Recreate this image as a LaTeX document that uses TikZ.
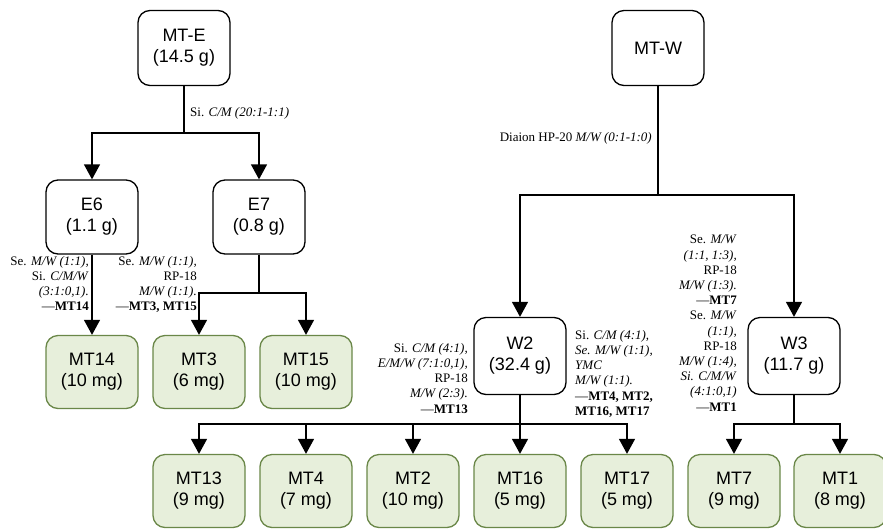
\documentclass[tikz,border=0pt]{standalone}
\usepackage{fontspec}
\setmainfont{Liberation Serif}
\newfontfamily\boxfont{Liberation Sans}
\usetikzlibrary{arrows.meta}
\definecolor{gfill}{RGB}{231,239,219}
\definecolor{gdraw}{RGB}{106,135,72}
\tikzset{
  box/.style={draw=black, line width=1.3pt, rounded corners=12pt, fill=white,
    minimum width=92pt, minimum height=75pt, inner sep=0pt, align=center,
    font={\boxfont\fontsize{18}{21}\selectfont}},
  gbox/.style={box, draw=gdraw, fill=gfill, minimum height=73pt},
  conn/.style={line width=1.3pt, draw=black},
  arr/.style={conn, -{Triangle[width=16pt,length=15pt]}},
  lab/.style={inner sep=0pt, font={\fontsize{13}{15.2}\selectfont}},
}
\begin{document}
\begin{tikzpicture}[x=1pt,y=-1pt]
\useasboundingbox (0,0) rectangle (883,528);
% top nodes
\node[box] (mte) at (184,48) {MT-E\\(14.5 g)};
\node[box] (mtw) at (658,48) {MT-W};
% second level
\node[box, minimum height=74pt] (e6) at (92,217) {E6\\(1.1 g)};
\node[box, minimum height=74pt] (e7) at (259,217) {E7\\(0.8 g)};
\node[box, minimum height=77pt] (w2) at (520,356) {W2\\(32.4 g)};
\node[box, minimum height=77pt] (w3) at (794,356) {W3\\(11.7 g)};
% green row 1
\node[gbox] (mt14) at (92,372) {MT14\\(10 mg)};
\node[gbox] (mt3) at (199,372) {MT3\\(6 mg)};
\node[gbox] (mt15) at (306,372) {MT15\\(10 mg)};
% green row 2
\node[gbox] (mt13) at (199,491) {MT13\\(9 mg)};
\node[gbox] (mt4) at (306,491) {MT4\\(7 mg)};
\node[gbox] (mt2) at (413,491) {MT2\\(10 mg)};
\node[gbox] (mt16) at (520,491) {MT16\\(5 mg)};
\node[gbox] (mt17) at (627,491) {MT17\\(5 mg)};
\node[gbox] (mt7) at (734,491) {MT7\\(9 mg)};
\node[gbox] (mt1) at (840,491) {MT1\\(8 mg)};
% junctions
\coordinate (jE) at (184,133);
\coordinate (jW) at (658,195);
\coordinate (jE7) at (259,293);
\coordinate (jW2) at (520,424);
\coordinate (jW3) at (794,424);
% connectors
\draw[conn] (mte.south) -- (jE);
\draw[arr] (jE) -| (e6.north);
\draw[arr] (jE) -| (e7.north);
\draw[arr] (e6.south) -- (mt14.north);
\draw[conn] (e7.south) -- (jE7);
\draw[arr] (jE7) -| (mt3.north);
\draw[arr] (jE7) -| (mt15.north);
\draw[conn] (mtw.south) -- (jW);
\draw[arr] (jW) -| (w2.north);
\draw[arr] (jW) -| (w3.north);
\draw[conn] (w2.south) -- (jW2);
\draw[arr] (jW2) -| (mt13.north);
\draw[arr] (jW2) -| (mt4.north);
\draw[arr] (jW2) -| (mt2.north);
\draw[arr] (jW2) -- (mt16.north);
\draw[arr] (jW2) -| (mt17.north);
\draw[conn] (w3.south) -- (jW3);
\draw[arr] (jW3) -| (mt7.north);
\draw[arr] (jW3) -| (mt1.north);
% labels
\node[lab, anchor=west] (l1) at (190,113) {Si. \textit{C/M (20:1-1:1)}};
\node[lab, anchor=east] (l2) at (652,138) {Diaion HP-20 \textit{M/W (0:1-1:0)}};
\node[lab, anchor=north east, align=right] (l3) at (89,256)
  {Se. \textit{M/W (1:1),}\\Si. \textit{C/M/W}\\\textit{(3:1:0,1).}\\—\textbf{MT14}};
\node[lab, anchor=north east, align=right] (l4) at (197,256)
  {Se. \textit{M/W (1:1),}\\RP-18\\\textit{M/W (1:1).}\\—\textbf{MT3, MT15}};
\node[lab, anchor=north east, align=right] (l5) at (468,343)
  {Si. \textit{C/M (4:1),}\\\textit{E/M/W (7:1:0,1),}\\RP-18\\\textit{M/W (2:3).}\\—\textbf{MT13}};
\node[lab, anchor=north west, align=left] (l6) at (575,330)
  {Si. \textit{C/M (4:1),}\\\textit{Se. M/W (1:1),}\\\textit{YMC}\\\textit{M/W (1:1).}\\—\textbf{MT4, MT2,}\\\textbf{MT16, MT17}};
\node[lab, anchor=north east, align=right] (l7) at (737,235)
  {Se. \textit{M/W}\\\textit{(1:1, 1:3),}\\RP-18\\\textit{M/W (1:3).}\\—\textbf{MT7}\\Se. \textit{M/W}\\\textit{(1:1),}\\RP-18\\\textit{M/W (1:4),}\\\textit{Si. C/M/W}\\\textit{(4:1:0,1)}\\—\textbf{MT1}};
\end{tikzpicture}
\end{document}
